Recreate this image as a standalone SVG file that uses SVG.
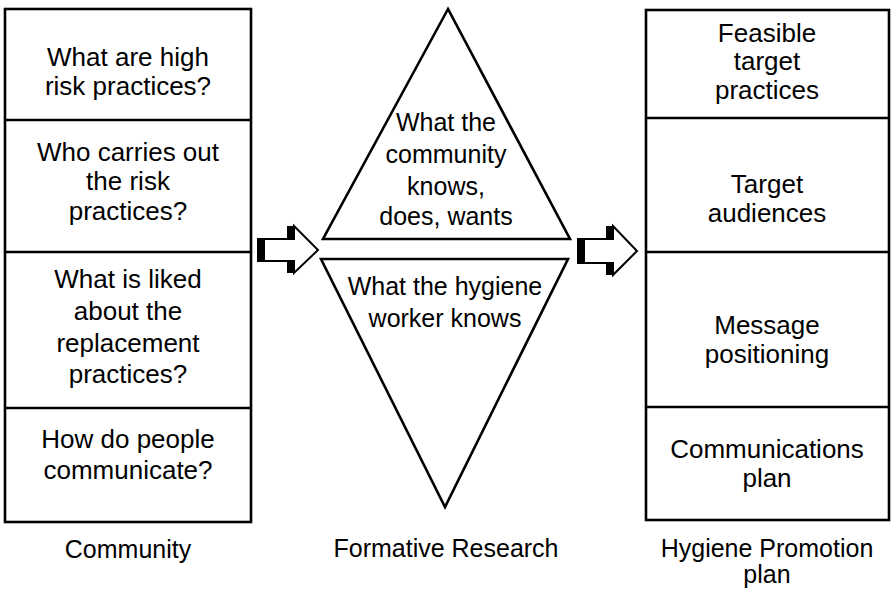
<svg xmlns="http://www.w3.org/2000/svg" width="892" height="595" viewBox="0 0 892 595">
<style>
.box{fill:#fff;stroke:#000;stroke-width:2.6}
.div{stroke:#000;stroke-width:2.4;fill:none}
.tri{fill:#fff;stroke:#000;stroke-width:2.6;stroke-linejoin:miter}
.t{font-family:"Liberation Sans",Arial,sans-serif;font-size:26px;fill:#000;text-anchor:middle}
.s{font-size:25px}
.arr{fill:#fff;stroke:#000;stroke-width:2;stroke-linejoin:miter}
</style>
<rect width="892" height="595" fill="#fff"/>
<g id="community">
<rect class="box" x="5" y="9" width="246" height="513"/>
<line class="div" x1="5" y1="120" x2="251" y2="120"/>
<line class="div" x1="5" y1="252" x2="251" y2="252"/>
<line class="div" x1="5" y1="408" x2="251" y2="408"/>
<text class="t" x="128" y="66">What are high</text>
<text class="t" x="128" y="95">risk practices?</text>
<text class="t" x="128" y="161">Who carries out</text>
<text class="t" x="128" y="190">the risk</text>
<text class="t" x="128" y="220">practices?</text>
<text class="t" x="128" y="288">What is liked</text>
<text class="t" x="128" y="320">about the</text>
<text class="t" x="128" y="352">replacement</text>
<text class="t" x="128" y="383">practices?</text>
<text class="t" x="128" y="448">How do people</text>
<text class="t" x="128" y="479">communicate?</text>
<text class="t s" x="128" y="558">Community</text>
</g>
<g id="formative">
<polygon class="tri" points="448,9 323,239 570,239"/>
<polygon class="tri" points="321,259 568,259 445,507"/>
<text class="t s" x="446" y="131">What the</text>
<text class="t s" x="446" y="163">community</text>
<text class="t s" x="446" y="195">knows,</text>
<text class="t s" x="446" y="225">does, wants</text>
<text class="t s" x="445" y="295">What the hygiene</text>
<text class="t s" x="445" y="327">worker knows</text>
<text class="t s" x="446" y="557">Formative Research</text>
</g>
<g id="hygiene">
<rect class="box" x="646" y="10" width="243" height="510"/>
<line class="div" x1="646" y1="118" x2="889" y2="118"/>
<line class="div" x1="646" y1="252" x2="889" y2="252"/>
<line class="div" x1="646" y1="407" x2="889" y2="407"/>
<text class="t" x="767" y="42">Feasible</text>
<text class="t" x="767" y="70">target</text>
<text class="t" x="767" y="99">practices</text>
<text class="t" x="767" y="193">Target</text>
<text class="t" x="767" y="222">audiences</text>
<text class="t" x="767" y="334">Message</text>
<text class="t" x="767" y="363">positioning</text>
<text class="t" x="767" y="458">Communications</text>
<text class="t" x="767" y="487">plan</text>
<text class="t s" x="767" y="557">Hygiene Promotion</text>
<text class="t s" x="767" y="583">plan</text>
</g>
<g id="connectors">
<g id="arrow1">
<polygon class="arr" points="258,239 294,239 294,226 318,250 294,273 294,261 258,261"/>
<rect x="258" y="239" width="7" height="22" fill="#000"/>
<rect x="287" y="226" width="7" height="13" fill="#000"/>
<rect x="287" y="261" width="7" height="12" fill="#000"/>
</g>
<g id="arrow2">
<polygon class="arr" points="578,239 613,239 613,226 637,251 613,275 613,263 578,263"/>
<rect x="578" y="239" width="7" height="24" fill="#000"/>
<rect x="606" y="226" width="7" height="13" fill="#000"/>
<rect x="606" y="263" width="7" height="12" fill="#000"/>
</g>
</g>
</svg>
